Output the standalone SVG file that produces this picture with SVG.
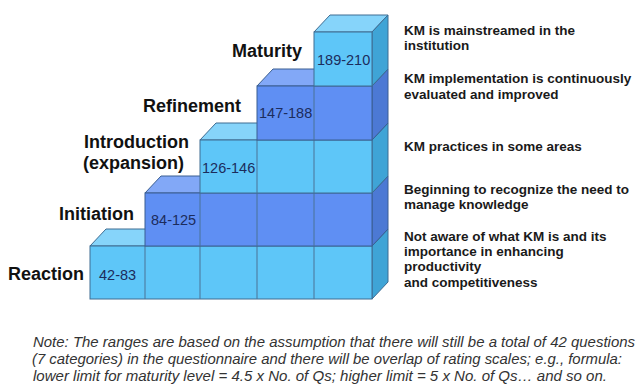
<svg xmlns="http://www.w3.org/2000/svg" width="640" height="392" viewBox="0 0 640 392">
<style>
.lf{fill:#5ec6f8;stroke:#3e6c92;stroke-width:1}
.lt{fill:#86d4fa;stroke:#3e6c92;stroke-width:1}
.ls{fill:#3fa4d6;stroke:#3e6c92;stroke-width:1}
.df{fill:#5f8ff3;stroke:#3a5f92;stroke-width:1}
.dt{fill:#82a8f7;stroke:#3a5f92;stroke-width:1}
.ds{fill:#4c79d4;stroke:#3a5f92;stroke-width:1}
.dv{stroke:#4a7396;stroke-width:1;fill:none}
.lbl{font-family:"Liberation Sans",Arial,sans-serif;font-weight:bold;font-size:18px;fill:#111;text-anchor:end}
.rng{font-family:"Liberation Sans",Arial,sans-serif;font-size:14.5px;fill:#1c2c5c}
.desc{font-family:"Liberation Sans",Arial,sans-serif;font-weight:bold;font-size:13.5px;fill:#1a1a1a}
.note{font-family:"Liberation Sans",Arial,sans-serif;font-style:italic;font-size:14px;fill:#333}
</style>
<rect width="640" height="392" fill="#fff"/>
<g id="reaction">
<polygon class="lt" points="90,246 372,246 388,229 106,229"/>
<polygon class="ls" points="372,246 388,229 388,282 372,299"/>
<rect class="lf" x="90" y="246" width="282" height="53"/>
<path class="dv" d="M145,246V299M200,246V299M257,246V299M314,246V299"/>
<text class="lbl" x="84" y="280">Reaction</text>
<text class="rng" x="99" y="280">42-83</text>
<text class="desc" x="404"><tspan x="404" y="241">Not aware of what KM is and its</tspan><tspan x="404" y="256">importance in enhancing</tspan><tspan x="404" y="271">productivity</tspan><tspan x="404" y="287">and competitiveness</tspan></text>
</g>
<g id="initiation">
<polygon class="dt" points="145,193 372,193 388,176 161,176"/>
<polygon class="ds" points="372,193 388,176 388,229 372,246"/>
<rect class="df" x="145" y="193" width="227" height="53"/>
<path class="dv" d="M200,193V246M257,193V246M314,193V246"/>
<text class="lbl" x="134" y="220">Initiation</text>
<text class="rng" x="151" y="225">84-125</text>
<text class="desc"><tspan x="404" y="194">Beginning to recognize the need to</tspan><tspan x="404" y="209">manage knowledge</tspan></text>
</g>
<g id="introduction">
<polygon class="lt" points="200,140 372,140 388,123 216,123"/>
<polygon class="ls" points="372,140 388,123 388,176 372,193"/>
<rect class="lf" x="200" y="140" width="172" height="53"/>
<path class="dv" d="M257,140V193M314,140V193"/>
<text class="lbl" x="189" y="148">Introduction</text>
<text class="lbl" x="184" y="169">(expansion)</text>
<text class="rng" x="202" y="173">126-146</text>
<text class="desc" x="404" y="151">KM practices in some areas</text>
</g>
<g id="refinement">
<polygon class="dt" points="257,86 372,86 388,69 273,69"/>
<polygon class="ds" points="372,86 388,69 388,123 372,140"/>
<rect class="df" x="257" y="86" width="115" height="54"/>
<path class="dv" d="M314,86V140"/>
<text class="lbl" x="241" y="112">Refinement</text>
<text class="rng" x="259" y="118">147-188</text>
<text class="desc"><tspan x="404" y="83">KM implementation is continuously</tspan><tspan x="404" y="99">evaluated and improved</tspan></text>
</g>
<g id="maturity">
<polygon class="lt" points="314,32 372,32 388,15 330,15"/>
<polygon class="ls" points="372,32 388,15 388,69 372,86"/>
<rect class="lf" x="314" y="32" width="58" height="54"/>
<text class="lbl" x="302" y="57">Maturity</text>
<text class="rng" x="317" y="65">189-210</text>
<text class="desc"><tspan x="404" y="35">KM is mainstreamed in the</tspan><tspan x="404" y="50">institution</tspan></text>
</g>
<g id="note">
<text class="note" x="33" y="347" textLength="602" lengthAdjust="spacingAndGlyphs">Note: The ranges are based on the assumption that there will still be a total of 42 questions</text>
<text class="note" x="32" y="364" textLength="590" lengthAdjust="spacingAndGlyphs">(7 categories) in the questionnaire and there will be overlap of rating scales; e.g., formula:</text>
<text class="note" x="33" y="381" textLength="574" lengthAdjust="spacingAndGlyphs">lower limit for maturity level = 4.5 x No. of Qs; higher limit = 5 x No. of Qs… and so on.</text>
</g>
</svg>
